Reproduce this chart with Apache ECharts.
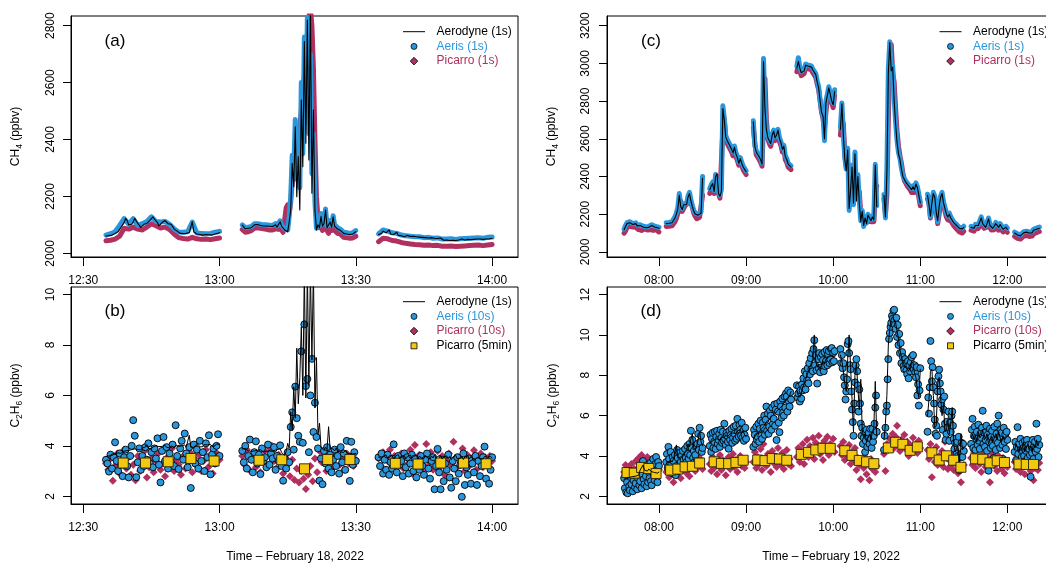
<!DOCTYPE html>
<html>
<head>
<meta charset="utf-8">
<script src="https://cdn.jsdelivr.net/npm/echarts@6/dist/echarts.min.js"></script>
<style>html,body{margin:0;padding:0;background:#fff}#chart{width:1046px;height:564px}</style>
</head>
<body>
<div id="chart"></div>
<script>
// times are minutes after midnight; each measurement block is one array
const segStartFeb18 = [755, 785, 815];
const segStartFeb19 = [456, 485, 515, 545, 575, 605, 635, 665, 695, 725];

// (a) CH4, Feb 18 -- Aerodyne every 20 s, Aeris/Picarro per block step below
const aerodyneA = [
  [2061,2063,2062, 2066,2064,2067, 2070,2072,2076, 2080,2092,2099, 2108,2123,2115,
   2100,2094,2102, 2110,2123,2116, 2105,2098,2091, 2096,2102,2100, 2105,2110,2116,
   2123,2128,2120, 2117,2108,2096, 2100,2108,2112, 2115,2110,2104, 2099,2102,2094,
   2086,2082,2078, 2072,2070,2074, 2069,2072,2070, 2068,2073,2080, 2111,2075,2070,
   2068,2071,2066, 2069,2064,2068, 2066,2070,2065, 2068,2064,2070, 2068,2072,2070, 2073],
  [2099,2094,2086, 2082,2088,2094, 2090,2096,2100, 2094,2101,2105, 2098,2102,2096,
   2092,2096,2090, 2095,2088,2094, 2090,2100,2092, 2098,2111,2095, 2088,2082,2080,
   2076,2110,2152, 2316,2234,2445, 2199,2340,2152, 2539,2304,2744, 2387,2820,2328,
   2860,2211,2504, 2152,2082,2100, 2090,2129,2095, 2105,2152,2090, 2085,2110,2092,
   2128,2095,2100, 2085,2092,2080, 2075,2070,2072, 2068,2071,2066, 2070,2068,2072, 2076],
  [2066,2064,2070, 2078,2085,2072, 2075,2082,2068, 2072,2066,2070, 2074,2063,2068,
   2062,2065,2058, 2060,2063,2057, 2059,2055,2060, 2056,2058,2054, 2057,2053,2056,
   2052,2055,2050, 2054,2051,2055, 2050,2053,2048, 2052,2049,2054, 2050,2046,2049,
   2047,2050,2045, 2048,2046,2050, 2045,2049,2047, 2046,2050,2048, 2047,2052,2049,
   2050,2048,2053, 2049,2052,2050, 2054,2050,2052, 2049,2053,2050, 2052,2050,2054, 2053]
];
const stepA = [1, 1 / 3, 1];
const aerisA = [
  [2064,2069,2076,2098,2122, 2102,2122,2098,2104,2112, 2128,2112,2110,2112,2102,
   2086,2075,2074,2076,2110, 2071,2070,2069,2070,2074, 2077],
  [2100,2096,2090, 2086,2092,2098, 2094,2100,2104, 2098,2104,2108, 2102,2106,2100,
   2096,2100,2094, 2099,2092,2098, 2094,2104,2096, 2102,2114,2098, 2092,2086,2084,
   2082,2130,2200, 2345,2290,2470, 2260,2380,2230, 2600,2350,2760, 2480,2830,2420,
   2700,2280,2420, 2180,2088,2110, 2096,2140,2100, 2110,2156,2096, 2090,2115,2098,
   2132,2100,2104, 2090,2096,2084, 2080,2074,2076, 2072,2075,2070, 2074,2072,2076, 2080],
  [2068,2082,2078,2072,2070, 2064,2062,2060,2058,2058, 2055,2056,2053,2054,2050,
   2050,2051,2049,2051,2052, 2053,2054,2055,2053,2056, 2057]
];
const picarroA = [
  [2044,2046,2050,2060,2088, 2085,2092,2085,2082,2092, 2104,2097,2089,2092,2084,
   2068,2055,2052,2050,2056, 2051,2049,2050,2048,2051, 2054],
  [2084,2080,2074, 2070,2076,2082, 2080,2084,2088, 2084,2090,2092, 2088,2090,2086,
   2080,2084,2078, 2082,2076,2082, 2078,2086,2080, 2084,2094,2082, 2074,2070,2160,
   2170,2140,2180, 2250,2300,2350, 2400,2330,2450, 2500,2560,2620, 2700,2760,2830,
   2860,2800,2650, 2400,2200,2120, 2090,2110,2080, 2095,2130,2080, 2070,2095,2080,
   2110,2080,2085, 2070,2078,2066, 2060,2056,2058, 2055,2058,2053, 2056,2054,2058, 2060],
  [2041,2053,2051,2045,2043, 2038,2035,2033,2031,2030, 2028,2029,2027,2028,2025,
   2025,2026,2024,2025,2026, 2027,2028,2029,2027,2029, 2031]
];

// (b) C2H6, Feb 18 -- Aerodyne 20 s, Aeris 20 s, Picarro 30 s, Picarro 5-min means
const aerodyneB = [
  [3.58,3.62,3.60, 3.65,3.62,3.68, 3.70,3.66,3.72, 3.75,3.70,3.78, 3.74,3.80,3.76,
   3.82,3.78,3.85, 3.80,3.88,3.83, 3.86,3.90,3.84, 3.92,3.86,3.95, 4.05,3.90,3.94,
   3.88,3.96,3.92, 4.00,3.93,3.97, 3.90,3.98,3.95, 4.02,3.94,3.98, 3.92,4.00,3.96,
   3.94,4.02,3.95, 3.98,3.92,4.00, 3.96,4.04,3.95, 3.98,4.42,3.96, 4.00,3.94,4.02,
   3.98,4.05,3.96, 4.02,3.97,4.05, 3.98,4.04,4.00, 4.06,3.98,4.03, 4.00,4.08,4.02, 4.05],
  [3.88,3.82,3.90, 3.85,3.80,3.86, 3.78,3.84,3.80, 3.76,3.82,3.78, 3.85,3.80,3.76,
   3.82,3.78,3.84, 3.80,3.86,3.78, 3.82,3.76,3.85, 3.80,3.88,3.74, 3.70,3.62,3.78,
   4.10,3.90,5.35, 4.60,6.34,5.10, 7.87,5.67,6.70, 8.72,6.00,11.0, 5.90,11.0,6.40,
   11.0,7.40,11.0, 5.50,7.50,4.45, 4.90,3.95,3.88, 3.82,3.95,3.85, 4.76,3.90,3.84,
   3.88,3.80,3.92, 3.78,3.85,3.76, 3.80,3.74,3.82, 3.72,3.78,3.70, 3.76,3.68,3.74, 3.70],
  [3.55,3.62,3.50, 3.58,3.52,3.64, 3.50,3.60,3.54, 3.62,3.48,3.58, 3.52,3.66,3.50,
   3.60,3.54,3.62, 3.48,3.58,3.52, 3.64,3.50,3.58, 3.54,3.62,3.48, 3.60,3.52,3.56,
   3.50,3.62,3.54, 3.58,3.48,3.60, 3.52,3.64,3.50, 3.58,3.54,3.62, 3.48,3.56,3.52,
   3.60,3.50,3.58, 3.46,3.56,3.52, 3.62,3.48,3.55, 3.50,3.58,3.46, 3.56,3.52,3.60,
   3.48,3.58,3.50, 3.56,3.46,3.54, 3.60,3.50,3.56, 3.48,3.58,3.52, 3.55,3.50,3.58, 3.52]
];
const aerisB = [
  [3.45,3.30,2.98, 3.65,3.10,3.55, 4.14,3.40,3.00, 3.70,3.25,2.80, 3.55,3.85,3.20,
   2.75,3.60,4.00, 5.02,4.40,2.76, 3.35,3.90,3.05, 3.60,3.20,3.95, 3.45,4.10,3.30,
   3.75,3.15,3.90, 3.50,4.30,3.25, 2.55,3.80,4.35, 3.40,3.95,3.10, 3.70,3.35,4.05,
   3.20,4.82,3.60, 3.08,3.90,4.20, 3.45,4.49,3.70, 3.15,3.95,2.33, 3.55,4.05,3.30,
   3.85,3.10,4.20, 3.40,3.75,3.00, 4.10,3.55,4.42, 2.87,3.65,3.90, 3.30,4.00,4.46, 3.60],
  [3.80,3.35,4.00, 3.10,3.60,4.25, 3.45,2.95,3.75, 4.18,3.30,3.65, 2.88,3.90,3.40,
   3.55,3.15,4.05, 3.25,3.70,3.50, 3.95,3.05,3.60, 3.40,4.02,3.20, 2.62,3.50,3.10,
   3.75,3.35,4.75, 5.33,3.85,6.35, 5.10,4.40,4.16, 7.75,4.12,8.82, 6.37,6.65,3.75,
   6.00,7.45,4.55, 5.71,4.35,3.90, 2.62,3.50,2.48, 3.80,3.30,3.95, 3.10,3.65,2.95,
   3.45,3.85,3.20, 3.60,2.90,3.95, 3.35,3.70,3.05, 4.20,3.50,2.61, 4.16,3.25,3.75, 3.40],
  [3.55,3.20,3.70, 2.90,3.45,3.05, 3.65,2.85,3.35, 3.10,4.06,3.50, 2.95,3.60,3.25,
   3.40,2.80,3.70, 3.15,3.55,2.90, 3.30,3.65,3.00, 3.50,2.75,3.35, 3.05,3.60,3.20,
   2.85,3.45,3.70, 3.10,2.70,3.40, 3.55,2.28,3.20, 3.88,2.95,2.28, 3.45,2.60,3.30,
   3.05,3.65,2.75, 2.34,3.40,3.10, 2.60,3.55,2.90, 3.25,1.98,3.70, 2.45,3.15,2.85,
   3.50,2.50,3.30, 2.95,3.60,2.45, 3.40,2.80,3.20, 3.55,3.97,2.70, 3.35,2.50,3.05, 3.55]
];
const picarroB = [
  [3.30,3.05,3.50,2.62,3.20, 3.70,2.90,3.40,3.85,3.10, 3.55,2.85,3.25,2.64,3.60,
   3.00,3.35,3.80,2.75,3.15, 3.50,2.95,3.40,3.70,3.05, 3.30,2.80,3.55,3.20,3.90,
   3.00,3.45,3.25,2.85,3.60, 3.10,3.35,3.75,2.95,3.50, 3.20,3.65,3.00,3.40,3.85,
   3.15,3.55,2.90,3.30,3.70, 3.45],
  [3.60,3.25,3.85,3.05,3.45, 3.70,3.15,3.50,2.95,3.35, 3.80,3.20,3.95,4.00,3.40,
   3.10,3.65,3.30,2.90,3.55, 3.25,2.80,3.45,2.65,3.10, 2.55,3.00,2.70,2.29,2.85,
   3.20,2.60,3.50,2.95,3.80, 3.35,3.65,3.00,3.90,3.40, 3.15,3.60,3.85,3.25,3.50,
   3.05,3.70,3.30,3.55,3.20, 3.45],
  [3.50,3.20,3.75,3.05,3.40, 3.85,3.15,3.60,2.95,3.45, 3.70,3.10,3.55,3.30,3.85,
   2.90,4.03,3.35,3.65,3.00, 3.50,4.07,3.20,3.75,3.05, 3.45,3.80,3.15,3.60,2.85,
   3.40,3.70,3.25,4.16,3.10, 3.55,3.35,3.90,3.00,3.65, 3.20,3.50,3.83,3.05,3.45,
   3.70,3.15,3.55,3.30,3.60, 3.40]
];
const sqTimeB = [758.8, 763.7, 768.7, 773.7, 778.8, 788.7, 793.7, 798.7, 803.8, 808.7, 818.7, 823.7, 828.7, 833.7, 838.7];
const sqValB  = [3.32, 3.32, 3.37, 3.50, 3.40, 3.43, 3.45, 3.09, 3.46, 3.46, 3.31, 3.28, 3.32, 3.32, 3.29];

// (c) CH4, Feb 19 -- all per minute
const aerodyneC = [
  [2118,2135,2150,2148,2155, 2160,2145,2140,2150,2138, 2135,2140,2130,2132,2140, 2128,2135,2130,2138,2140, 2130,2132,2138,2128,2125],
  [2150,2148,2152,2150,2155, 2165,2180,2200,2230,2300, 2240,2225,2250,2260,2250, 2290,2310,2270,2240,2215, 2200,2190,2195,2200,2205, 2390],
  [2330,2350,2362,2320,2400, 2415,2310,2295,2320,2760, 2700,2610,2590,2575,2560, 2545,2525,2555,2520,2500, 2470,2495,2470,2450,2440, 2425],
  [2690,2560,2530,2520,2505, 2490,2465,3010,2760,2650, 2605,2590,2575,2620,2640, 2605,2620,2645,2600,2580, 2545,2560,2505,2490,2465, 2470,2450],
  [2975,3010,2975,2950,2940, 2960,2990,3000,2985,2995, 2980,2965,2955,2940,2900, 2870,2800,2740,2720,2600, 2790,2830,2870,2860,2800, 2780,2850],
  [2650,2785,2620,2490,2430, 2540,2230,2330,2450,2260, 2520,2270,2400,2260,2160, 2215,2140,2180,2150,2195, 2205,2165,2185,2170,2460, 2240],
  [2300,2185,2420,2950,3110, 2960,2980,2800,2680,2580, 2520,2490,2440,2400,2385, 2370,2365,2350,2340,2330, 2345,2330,2360,2340,2300, 2260],
  [2300,2250,2190,2260,2310, 2290,2210,2165,2240,2290, 2310,2260,2230,2200,2185, 2200,2180,2170,2155,2150, 2140,2132,2125,2115,2122, 2130],
  [2130,2135,2125,2140,2150, 2140,2160,2180,2150,2140, 2130,2150,2175,2140,2130, 2125,2135,2150,2140,2130, 2145,2135,2120,2125,2130, 2120],
  [2100,2095,2090,2100,2085, 2095,2100,2090,2105,2095, 2100,2110,2100,2115,2110, 2120,2130,2125]
];
const aerisC = [
  [2122,2140,2155,2152,2160, 2164,2150,2145,2154,2142, 2140,2144,2135,2137,2144, 2133,2140,2135,2142,2144, 2135,2137,2142,2133,2130],
  [2155,2152,2156,2155,2160, 2170,2186,2206,2236,2310, 2246,2230,2256,2266,2255, 2296,2316,2276,2245,2220, 2205,2195,2200,2206,2212, 2400],
  [2336,2356,2370,2326,2410, 2420,2316,2300,2330,2775, 2710,2618,2596,2582,2566, 2550,2530,2562,2526,2506, 2476,2500,2476,2456,2446, 2430],
  [2695,2566,2536,2526,2510, 2496,2470,3025,2770,2656, 2610,2596,2580,2626,2646, 2610,2626,2650,2606,2586, 2550,2566,2510,2496,2470, 2476,2456],
  [2985,3030,2980,2955,2945, 2968,2996,3006,2990,3000, 2986,2970,2960,2946,2906, 2876,2806,2748,2726,2590, 2800,2836,2876,2866,2806, 2786,2860],
  [2660,2790,2630,2500,2440, 2550,2220,2340,2460,2250, 2530,2280,2410,2270,2165, 2220,2135,2186,2156,2200, 2210,2170,2190,2176,2465, 2245],
  [2305,2180,2430,2970,3115, 2975,2990,2810,2690,2590, 2526,2496,2446,2406,2390, 2376,2370,2356,2346,2336, 2350,2336,2366,2346,2306, 2265],
  [2306,2256,2186,2266,2316, 2296,2216,2160,2246,2296, 2316,2266,2236,2206,2190, 2206,2186,2176,2160,2156, 2146,2136,2130,2120,2126, 2136],
  [2136,2140,2130,2146,2156, 2145,2166,2186,2156,2146, 2136,2156,2180,2146,2136, 2130,2140,2156,2146,2136, 2150,2140,2126,2130,2136, 2126],
  [2105,2100,2096,2106,2090, 2100,2106,2096,2110,2100, 2106,2116,2106,2120,2116, 2126,2136,2132]
];
const picarroC = [
  [2100,2112,2130,2132,2136, 2142,2132,2124,2130,2124, 2118,2122,2114,2114,2122, 2112,2116,2112,2118,2122, 2114,2112,2118,2112,2106],
  [2135,2134,2136,2135,2138, 2145,2160,2178,2205,2250, 2270,2215,2230,2245,2240, 2260,2290,2280,2235,2205, 2188,2176,2178,2184,2190, 2300],
  [2310,2330,2345,2310,2370, 2400,2310,2285,2480,2650, 2700,2600,2575,2560,2545, 2530,2510,2535,2505,2485, 2460,2478,2458,2436,2426, 2410],
  [2660,2580,2515,2505,2490, 2475,2455,2700,2920,2700, 2600,2575,2560,2600,2625, 2590,2605,2625,2585,2565, 2530,2545,2490,2475,2450, 2455,2436],
  [2955,2990,2965,2935,2925, 2945,2975,2985,2970,2978, 2965,2950,2940,2925,2890, 2860,2800,2740,2710,2650, 2740,2815,2850,2850,2790, 2765,2830],
  [2620,2700,2680,2520,2450, 2480,2400,2260,2380,2320, 2400,2400,2300,2320,2200, 2170,2180,2150,2160,2160, 2190,2160,2160,2160,2300, 2350],
  [2280,2200,2300,2700,3000, 3100,2950,2900,2760,2640, 2560,2510,2470,2420,2380, 2365,2350,2340,2330,2315, 2325,2315,2340,2325,2290, 2245],
  [2280,2260,2180,2220,2290, 2285,2220,2150,2200,2270, 2290,2255,2215,2185,2170, 2180,2165,2152,2140,2132, 2122,2114,2106,2096,2100, 2110],
  [2115,2120,2110,2122,2132, 2124,2140,2160,2138,2125, 2115,2132,2155,2128,2116, 2110,2118,2132,2124,2115, 2128,2120,2106,2108,2114, 2104],
  [2082,2078,2072,2080,2068, 2076,2082,2072,2086,2078, 2082,2090,2084,2096,2094, 2102,2112,2108]
];

// (d) C2H6, Feb 19 -- Aerodyne 1 min, Aeris 30 s, Picarro 1 min, Picarro 5-min means
const aerodyneD = [
  [2.85,2.80,2.90,2.84,2.95, 2.88,2.98,2.92,3.00,2.95, 3.05,3.30,3.25,3.55,3.30, 3.38,3.25,3.35,3.28,3.22, 3.30,3.18,3.25,3.15,3.20],
  [3.60,3.75,3.65,3.80,3.70, 3.85,3.78,4.55,3.90,3.85, 3.95,4.00,4.10,4.05,4.30, 4.60,4.45,4.85,5.10,4.40, 4.30,4.50,4.80,5.20,4.70, 4.50],
  [4.60,4.70,4.65,4.80,4.75, 4.85,4.90,4.80,4.95,5.00, 4.90,5.05,4.95,5.00,5.10, 5.05,5.15,5.20,5.10,5.25, 5.20,5.30,5.15,5.25,5.05, 4.95],
  [4.85,4.95,5.05,5.10,5.20, 5.30,5.35,5.45,5.50,5.70, 5.65,5.80,5.85,6.00,5.95, 6.10,6.20,6.15,6.35,6.40, 6.50,6.60,6.65,6.80,6.85, 7.00,7.20],
  [7.20,7.00,6.90,7.10,7.40, 7.60,7.80,8.00,8.20,8.40, 8.60,8.80,10.0,8.70,8.40, 8.50,8.30,8.55,8.70,8.60, 8.80,8.75,8.90,8.85,9.00, 9.05,8.90],
  [9.00,8.70,8.20,7.60,7.20, 8.80,10.0,8.40,6.80,5.20, 8.00,8.60,7.40,6.30,7.80, 5.30,4.90,5.10,4.70,4.90, 5.10,4.80,5.20,5.40,7.70, 5.00],
  [4.80,5.60,7.00,9.50,10.3, 10.8,10.9,10.85,10.6,10.2, 9.80,9.30,8.90,8.70,8.50, 8.45,8.30,8.20,8.40,8.70, 8.60,8.10,7.90,7.30,6.90, 8.30],
  [6.00,6.80,8.20,8.30,7.00, 5.40,5.50,7.60,7.90,6.90, 6.00,6.60,5.20,5.30,5.80, 5.10,5.60,6.40,4.60,4.20, 4.40,4.50,3.70,5.10,4.30, 4.40],
  [4.90,5.10,4.80,5.00,4.70, 5.20,4.90,5.00,5.30,4.80, 4.90,5.10,4.60,4.80,5.00, 4.70,4.90,5.10,4.80,5.20, 4.90,4.70,5.00,4.80,4.90, 5.00],
  [4.30,4.60,4.40,4.20,4.50, 4.30,4.70,4.20,4.40,4.60, 4.30,4.50,4.20,4.60,4.40, 4.80,4.50,4.70]
];
const aerisD = [
  [2.90,2.40, 3.10,2.20, 2.70,2.15, 3.20,2.50, 2.30,2.95, 2.60,3.15, 2.25,2.80, 3.05,2.45, 2.65,3.20, 2.35,2.90,
   3.30,2.55, 2.75,3.45, 2.40,3.10, 3.75,2.85, 2.60,3.35, 3.00,2.50, 3.50,2.70, 3.20,2.90, 3.65,2.75, 2.55,3.40,
   3.85,3.05, 2.80,3.60, 3.95,3.30, 2.70,3.70, 3.50],
  [3.70,4.10, 3.40,4.45, 3.85,3.30, 4.20,3.60, 3.15,3.95, 3.75,3.35, 4.05,3.05, 3.50,4.30, 3.90,3.25, 4.15,3.55,
   3.70,4.00, 3.45,4.25, 3.80,3.60, 4.35,3.90, 3.70,4.50, 4.10,3.85, 4.60,4.05, 5.25,4.40, 4.80,3.90, 4.25,3.70,
   4.05,4.45, 3.75,4.60, 5.10,4.30, 5.40,4.70, 5.00,4.20, 4.40],
  [4.50,5.05, 4.20,4.85, 5.15,4.40, 4.70,5.20, 4.35,4.95, 5.25,4.60, 4.80,5.10, 4.45,5.30, 4.90,4.65, 5.20,4.75,
   5.60,4.85, 4.55,5.15, 5.00,4.70, 4.36,5.25, 4.80,5.05, 5.35,4.65, 4.90,5.45, 5.10,4.75, 5.50,4.85, 5.84,5.20,
   4.95,5.55, 5.30,5.00, 5.65,4.90, 5.25,4.75, 5.05,5.40, 4.85],
  [4.45,5.30, 5.05,4.60, 5.45,4.80, 4.95,5.60, 4.70,5.35, 5.75,5.00, 4.85,5.65, 5.40,6.00, 5.05,5.80, 6.45,5.25,
   6.10,5.10, 5.45,6.25, 6.00,5.30, 6.40,5.60, 5.85,6.55, 5.50,6.30, 4.79,6.60, 6.20,5.65, 5.18,6.70, 6.45,5.90,
   6.85,6.15, 6.00,6.95, 6.40,7.10, 6.95,6.20, 7.25,6.70, 6.45,7.15, 6.80],
  [7.50,6.90, 7.10,7.45, 6.70,7.25, 6.85,7.55, 7.25,7.85, 7.40,8.20, 7.30,8.05, 7.75,8.35, 7.60,8.60, 8.05,8.85,
   8.30,9.10, 8.20,9.30, 9.74,8.50, 9.00,8.25, 7.59,8.80, 8.35,9.10, 8.15,8.90, 8.40,9.05, 8.75,8.20, 9.15,8.45,
   8.70,9.25, 8.50,9.05, 9.20,8.60, 8.80,9.30, 9.35,8.65, 9.10,8.70, 9.20],
  [9.30,8.60, 9.00,8.35, 8.60,7.90, 7.50,6.80, 7.20,7.80, 9.55,9.70, 9.10,8.50, 8.30,7.20, 6.30,5.68, 5.00,6.60,
   7.65,8.50, 8.80,8.20, 7.50,6.20, 7.30,6.60, 5.60,5.00, 5.40,4.60, 4.90,5.20, 4.20,4.75, 5.30,4.45, 4.95,5.15,
   4.60,5.35, 4.85,4.40, 5.35,4.70, 5.00,5.60, 6.40,7.00, 5.20],
  [4.30,5.00, 5.40,6.20, 6.50,7.80, 8.80,9.80, 10.10,10.40, 10.60,10.95, 10.80,11.20, 11.25,10.50, 10.30,10.85, 9.90,10.50,
   9.50,10.05, 9.10,9.60, 8.60,9.15, 8.90,8.45, 8.30,8.80, 8.60,8.25, 8.05,8.70, 7.85,8.50, 8.20,8.65, 8.90,8.40,
   9.00,8.30, 8.50,8.15, 7.90,8.40, 7.00,7.55, 6.50,7.25, 8.35],
  [5.20,6.90, 6.10,7.40, 9.70,8.70, 7.70,8.40, 7.40,6.60, 5.80,5.10, 5.50,5.00, 7.20,7.95, 8.28,7.60, 7.20,6.55,
   6.80,5.30, 6.30,6.95, 5.60,4.80, 5.10,5.70, 5.40,6.20, 4.75,5.65, 5.20,6.00, 6.20,5.50, 4.85,4.35, 4.65,3.80,
   4.10,4.70, 4.00,4.95, 3.30,3.95, 4.10,4.65, 3.95,4.60, 4.25],
  [4.60,5.30, 5.84,4.40, 5.00,5.45, 4.30,4.85, 5.20,4.55, 5.55,4.75, 4.35,5.10, 4.90,5.40, 6.24,4.60, 5.15,4.45,
   4.80,5.50, 4.25,5.05, 3.27,4.70, 5.35,4.40, 4.95,5.25, 4.50,3.90, 5.45,4.80, 4.30,5.10, 5.60,4.65, 6.00,4.95,
   4.40,5.30, 5.15,4.55, 3.85,5.40, 4.70,5.05, 4.35,5.20, 4.80],
  [4.20,4.70, 3.80,4.45, 5.43,4.10, 4.60,3.70, 4.85,4.30, 3.95,4.65, 4.40,4.00, 4.75,3.75, 4.25,4.80, 3.90,4.55,
   4.35,4.05, 2.97,4.60, 4.15,4.80, 3.85,4.50, 4.70,4.20, 5.60,4.35, 4.85,3.95, 4.55]
];
const picarroD = [
  [3.20,3.55,2.90,3.40,3.10, 3.60,3.00,3.35,3.75,3.15, 3.90,3.45,4.05,3.30,3.80, 3.55,3.95,3.25,3.70,3.05, 3.50,2.95,3.40,3.15,3.30],
  [3.20,3.55,2.95,3.40,3.10, 2.70,3.50,3.05,3.75,3.25, 2.90,3.60,3.35,3.85,3.15, 3.55,3.00,3.70,3.40,3.95, 3.25,3.65,3.45,3.90,3.55, 3.35],
  [3.60,3.25,3.95,3.40,3.75, 3.10,3.55,4.05,3.30,3.80, 3.50,3.05,3.70,3.95,3.35, 3.65,4.10,3.45,3.80,3.20, 3.60,4.00,3.50,3.85,3.40, 3.70],
  [3.70,4.20,3.40,3.95,3.60, 4.35,3.30,4.60,3.85,3.50, 4.10,3.75,3.20,4.25,3.65, 3.95,3.45,4.40,3.80,3.55, 4.15,3.35,3.90,4.30,3.60, 3.85,3.50],
  [3.95,4.40,3.70,4.25,4.60, 3.60,4.15,4.80,3.95,4.50, 4.25,4.90,3.85,4.65,4.35, 5.00,4.10,4.55,3.80,4.75, 4.30,4.95,4.05,4.60,4.40, 4.85,4.20],
  [4.50,4.05,4.70,3.80,4.35, 3.95,4.55,3.60,4.20,3.75, 4.40,3.30,3.90,3.55,2.85, 3.70,3.40,3.95,3.10,3.60, 2.80,3.85,3.35,3.65,3.20, 3.50],
  [4.10,3.25,4.60,4.30,4.85, 4.50,5.10,4.40,4.95,5.50, 4.65,4.25,4.80,4.45,5.05, 4.35,4.70,4.00,4.55,4.20, 4.90,4.35,4.60,4.15,4.75, 4.40],
  [4.30,3.85,4.60,2.95,4.10, 3.70,4.45,3.55,4.00,3.65, 4.25,3.45,4.70,3.90,3.35, 3.80,3.50,4.05,3.30,3.75, 3.60,3.15,3.85,2.70,3.40, 3.55],
  [3.90,3.55,4.20,3.40,3.85, 4.35,3.60,3.20,4.05,3.70, 3.45,3.95,3.30,2.70,3.80, 4.10,3.50,3.75,3.25,4.00, 3.65,3.35,3.90,3.15,3.60, 3.45],
  [3.70,3.35,4.00,3.55,3.20, 3.85,3.45,3.10,3.75,3.50, 3.95,3.25,3.60,2.80,3.40, 3.80,3.30,3.65]
];
const sqTimeD = [458,463,468,473,478, 488,493,498,503,508, 518,523,528,533,538, 548,553,558,563,568, 578,583,588,593,598,
                 608,613,618,623,628, 638,643,648,653,658, 668,673,678,683,688, 698,703,708,713,718, 728,733,738];
const sqValD  = [3.18,3.15,3.43,3.38,3.13, 3.30,3.35,3.46,3.49,3.65, 3.71,3.63,3.62,3.68,3.79, 3.80,3.77,3.88,3.85,3.79,
                 4.08,4.18,4.30,4.38,4.38, 4.26,4.03,3.78,3.71,3.62, 4.40,4.68,4.58,4.28,4.45, 4.16,3.80,4.01,3.79,3.44,
                 3.86,3.84,3.66,3.76,3.68, 3.60,3.58,3.58];

const ticksTime18 = [750, 780, 810, 840];
const ticksTime19 = [480, 540, 600, 660, 720];
const ticksCH4a = [2000, 2200, 2400, 2600, 2800];
const ticksCH4c = [2000, 2200, 2400, 2600, 2800, 3000, 3200];
const ticksC2H6b = [2, 4, 6, 8, 10];
const ticksC2H6d = [2, 4, 6, 8, 10, 12];

// ---- drawing ----
const BLUE = '#2a96dc', MAROON = '#b03060', GOLD = '#f2c811';
const FONT = "'Liberation Sans', Arial, Helvetica, sans-serif";

function joinSegs(starts, segs, steps) {
  const out = [];
  segs.forEach((vals, k) => {
    const step = Array.isArray(steps) ? steps[k] : steps;
    if (k > 0) out.push([starts[k] - 1, null]);
    vals.forEach((v, i) => out.push([starts[k] + i * step, v]));
  });
  return out;
}
const pairs = (ts, vs) => ts.map((t, i) => [t, vs[i]]);
const hhmm = v => {
  const h = Math.floor(v / 60 + 1e-6), m = Math.round(v - h * 60);
  return String(h).padStart(2, '0') + ':' + String(m).padStart(2, '0');
};

const gridBase = { show: true, borderColor: '#000', borderWidth: 1, containLabel: false, outerBoundsMode: 'none' };
const timeAxis = (gi, min, max, ticks) => ({
  gridIndex: gi, type: 'value', min, max,
  axisLine: { show: true, onZero: false, lineStyle: { color: '#000', width: 1 } },
  axisTick: { show: true, length: 9, customValues: ticks, lineStyle: { color: '#000' } },
  axisLabel: { customValues: ticks, formatter: hhmm, color: '#000', fontSize: 12, fontFamily: FONT, margin: 18 },
  splitLine: { show: false }
});
const valAxis = (gi, min, max, ticks, margin) => ({
  gridIndex: gi, type: 'value', min, max,
  axisLine: { show: true, onZero: false, lineStyle: { color: '#000', width: 1 } },
  axisTick: { show: true, length: 8, customValues: ticks, lineStyle: { color: '#000' } },
  axisLabel: { customValues: ticks, formatter: v => String(v), rotate: 90, margin, color: '#000', fontSize: 12, fontFamily: FONT },
  splitLine: { show: false }
});
const line = (name, gi, data, color, width) => ({
  name, type: 'line', xAxisIndex: gi, yAxisIndex: gi, data, symbol: 'none', showSymbol: false, silent: true,
  lineStyle: { color, width, cap: 'round', join: 'round' }
});
const scatter = (name, gi, data, symbol, size, color, border) => ({
  name, type: 'scatter', xAxisIndex: gi, yAxisIndex: gi, data, symbol, symbolSize: size, silent: true,
  itemStyle: { color, opacity: 1, borderColor: border || color, borderWidth: border ? 0.9 : 0 }
});

function legend(xs, y0, items) {
  const out = [];
  items.forEach(([kind, text, tc], i) => {
    const y = y0 + i * 14.7;
    if (kind === 'line') out.push({ type: 'line', shape: { x1: xs - 11, y1: y, x2: xs + 11, y2: y }, style: { stroke: '#000', lineWidth: 1 } });
    if (kind === 'circle') out.push({ type: 'circle', shape: { cx: xs, cy: y, r: 3 }, style: { fill: BLUE, stroke: '#000', lineWidth: 0.8 } });
    if (kind === 'diamond') out.push({ type: 'polygon', shape: { points: [[xs, y - 3.8], [xs + 3.8, y], [xs, y + 3.8], [xs - 3.8, y]] }, style: { fill: MAROON, stroke: '#000', lineWidth: 0.8 } });
    if (kind === 'square') out.push({ type: 'rect', shape: { x: xs - 3, y: y - 3, width: 6, height: 6 }, style: { fill: GOLD, stroke: '#000', lineWidth: 0.8 } });
    out.push({ type: 'text', x: xs + 22.5, y, style: { text, fill: tc, fontSize: 12, fontFamily: FONT, align: 'left', verticalAlign: 'middle' } });
  });
  return out;
}
const label = (text, x, y, size, rotate) => ({
  type: 'text', x, y, rotation: rotate ? Math.PI / 2 : 0,
  style: { text, fill: '#000', fontSize: size, fontFamily: FONT, align: 'center', verticalAlign: 'middle' }
});
const richSub = { n: { fontSize: 12, fontFamily: FONT, fill: '#000', padding: [0, 0, 2, 0] },
                  s: { fontSize: 8.5, fontFamily: FONT, fill: '#000', verticalAlign: 'bottom' } };
const yTitle = (text, x, y) => ({
  type: 'text', x, y, rotation: Math.PI / 2,
  style: { text, rich: richSub, fill: '#000', fontSize: 12, fontFamily: FONT, align: 'center', verticalAlign: 'middle' }
});

const legend1s = [['line', 'Aerodyne (1s)', '#000'], ['circle', 'Aeris (1s)', BLUE], ['diamond', 'Picarro (1s)', MAROON]];
const legend10s = [['line', 'Aerodyne (1s)', '#000'], ['circle', 'Aeris (10s)', BLUE], ['diamond', 'Picarro (10s)', MAROON], ['square', 'Picarro (5min)', '#000']];

const chart = echarts.init(document.getElementById('chart'), null, { renderer: 'canvas' });
chart.setOption({
  animation: false,
  backgroundColor: '#fff',
  textStyle: { fontFamily: FONT },
  grid: [
    { ...gridBase, left: 71, top: 16, width: 447, height: 241 },
    { ...gridBase, left: 71, top: 287, width: 447, height: 217 },
    { ...gridBase, left: 607, top: 16, width: 451, height: 241 },
    { ...gridBase, left: 607, top: 287, width: 451, height: 217 }
  ],
  xAxis: [
    timeAxis(0, 747.3, 845.7, ticksTime18),
    timeAxis(1, 747.3, 845.7, ticksTime18),
    timeAxis(2, 444.2, 754.87, ticksTime19),
    timeAxis(3, 444.2, 754.87, ticksTime19)
  ],
  yAxis: [
    valAxis(0, 1987, 2834, ticksCH4a, 14),
    valAxis(1, 1.695, 10.30, ticksC2H6b, 14),
    valAxis(2, 1973, 3251, ticksCH4c, 15),
    valAxis(3, 1.62, 12.376, ticksC2H6d, 15)
  ],
  series: [
    line('Picarro (1s)', 0, joinSegs(segStartFeb18, picarroA, stepA), MAROON, 5),
    line('Aeris (1s)', 0, joinSegs(segStartFeb18, aerisA, stepA), BLUE, 5),
    line('Aerodyne (1s)', 0, joinSegs(segStartFeb18, aerodyneA, 1 / 3), '#000', 1.1),

    scatter('Picarro (10s)', 1, joinSegs(segStartFeb18, picarroB, 0.5), 'diamond', 8, MAROON),
    scatter('Aeris (10s)', 1, joinSegs(segStartFeb18, aerisB, 1 / 3), 'circle', 7, BLUE, '#000'),
    scatter('Picarro (5min)', 1, pairs(sqTimeB, sqValB), 'rect', 10, GOLD, '#2a2000'),
    line('Aerodyne (1s)', 1, joinSegs(segStartFeb18, aerodyneB, 1 / 3), '#000', 1),

    line('Picarro (1s)', 2, joinSegs(segStartFeb19, picarroC, 1), MAROON, 5),
    line('Aeris (1s)', 2, joinSegs(segStartFeb19, aerisC, 1), BLUE, 5),
    line('Aerodyne (1s)', 2, joinSegs(segStartFeb19, aerodyneC, 1), '#000', 1.1),

    scatter('Picarro (10s)', 3, joinSegs(segStartFeb19, picarroD, 1), 'diamond', 8, MAROON),
    scatter('Aeris (10s)', 3, joinSegs(segStartFeb19, aerisD, 0.5), 'circle', 7, BLUE, '#000'),
    scatter('Picarro (5min)', 3, pairs(sqTimeD, sqValD), 'rect', 10, GOLD, '#2a2000'),
    line('Aerodyne (1s)', 3, joinSegs(segStartFeb19, aerodyneD, 1), '#000', 1)
  ],
  graphic: { elements: [
    label('(a)', 115, 41, 17), label('(b)', 115, 311, 17), label('(c)', 651, 41, 17), label('(d)', 651, 311, 17),
    yTitle('{n|CH}{s|4}{n| (ppbv)}', 17, 136.5), yTitle('{n|C}{s|2}{n|H}{s|6}{n| (ppbv)}', 17, 395.5),
    yTitle('{n|CH}{s|4}{n| (ppbv)}', 553, 136.5), yTitle('{n|C}{s|2}{n|H}{s|6}{n| (ppbv)}', 554, 395.5),
    label('Time \u2013 February 18, 2022', 295, 557, 12), label('Time \u2013 February 19, 2022', 831, 557, 12),
    ...legend(414, 31.7, legend1s), ...legend(414, 301.7, legend10s),
    ...legend(950.5, 31.7, legend1s), ...legend(950.5, 301.7, legend10s)
  ].map(e => ({ ...e, z: 100 })) }
});
</script>
</body>
</html>
